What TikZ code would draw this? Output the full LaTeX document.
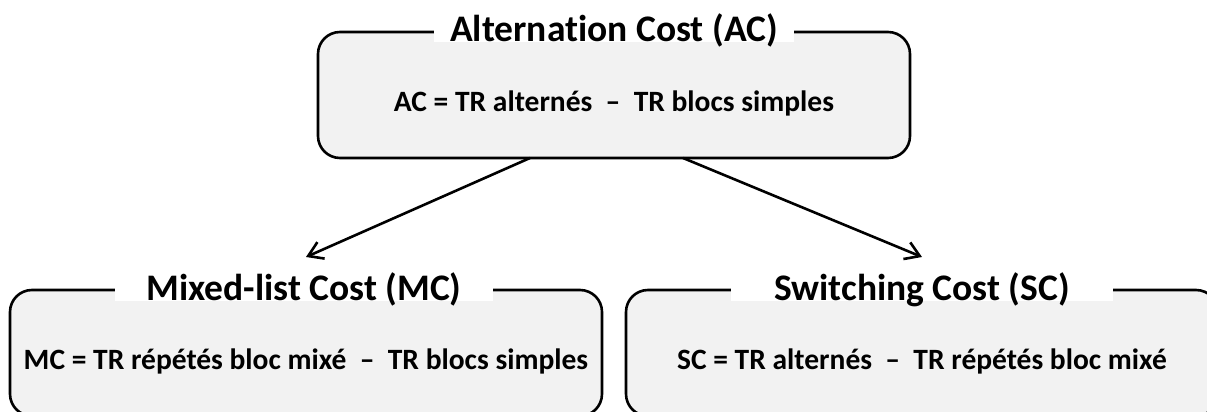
\documentclass[tikz,border=0pt]{standalone}
\usepackage{fontspec}
\setmainfont{Carlito}[RawFeature=-liga]
\usetikzlibrary{
  arrows.meta,
  positioning,  % Function "of" (e.g. [right=of x])
}
\definecolor{boxgray}{HTML}{F2F2F2}
\def\myboxw{592pt}
\def\myboxh{126pt}
\def\myhdist{24pt}
\tikzset{
  font=\bfseries,
  x=1pt, y=1pt,
  >={Straight Barb[length=14pt,width=18pt]},
  cost box/.style={
    draw,
    fill=boxgray,
    line width=2.6pt,
    rounded corners=22pt,
    minimum width=\myboxw,
    minimum height=\myboxh,
    inner sep=0pt,
    outer sep=0pt
  },
  cost title/.style={
    fill=white,
    inner xsep=16pt,
    inner ysep=0pt,
    text height=31pt,
    text depth=-7pt,  % white patch stops just below the frame
    anchor=base,
    font=\fontsize{37.5}{42}\selectfont\bfseries
  },
  cost formula/.style={
    anchor=base,
    font=\fontsize{29.5}{34}\selectfont\bfseries
  },
  cost arrow/.style={
    line width=2.6pt
  }
}

\begin{document}
\begin{tikzpicture}
\useasboundingbox[fill=white] (0,0) rectangle (1207,412);
\node[cost box] (ac) at (614,317) {};
\node[cost box] (mc) at (306,59) {};
\node[cost box,right=\myhdist of mc] (sc) {};
\node[cost title] (act) at ([yshift=-10]ac.north) {Alternation Cost (AC)};
\node[cost title,inner xsep=31pt] (mct) at ([xshift=-2,yshift=-11]mc.north) {Mixed-list Cost (MC)};
\node[cost title,inner xsep=43pt] (sct) at ([yshift=-11]sc.north) {Switching Cost (SC)};
\node[cost formula] (acf) at ([yshift=-80]ac.north) {AC = TR alternés \ – \ TR blocs simples};
\node[cost formula] (mcf) at ([yshift=-80]mc.north) {MC = TR répétés bloc mixé \ – \ TR blocs simples};
\node[cost formula] (scf) at ([yshift=-80]sc.north) {SC = TR alternés \ – \ TR répétés bloc mixé};
\path[->,cost arrow]
  ([xshift=-84]ac.south) edge ([yshift=33]mc.north)
  ([xshift=69]ac.south)  edge ([yshift=33]sc.north);
\end{tikzpicture}
\end{document}
